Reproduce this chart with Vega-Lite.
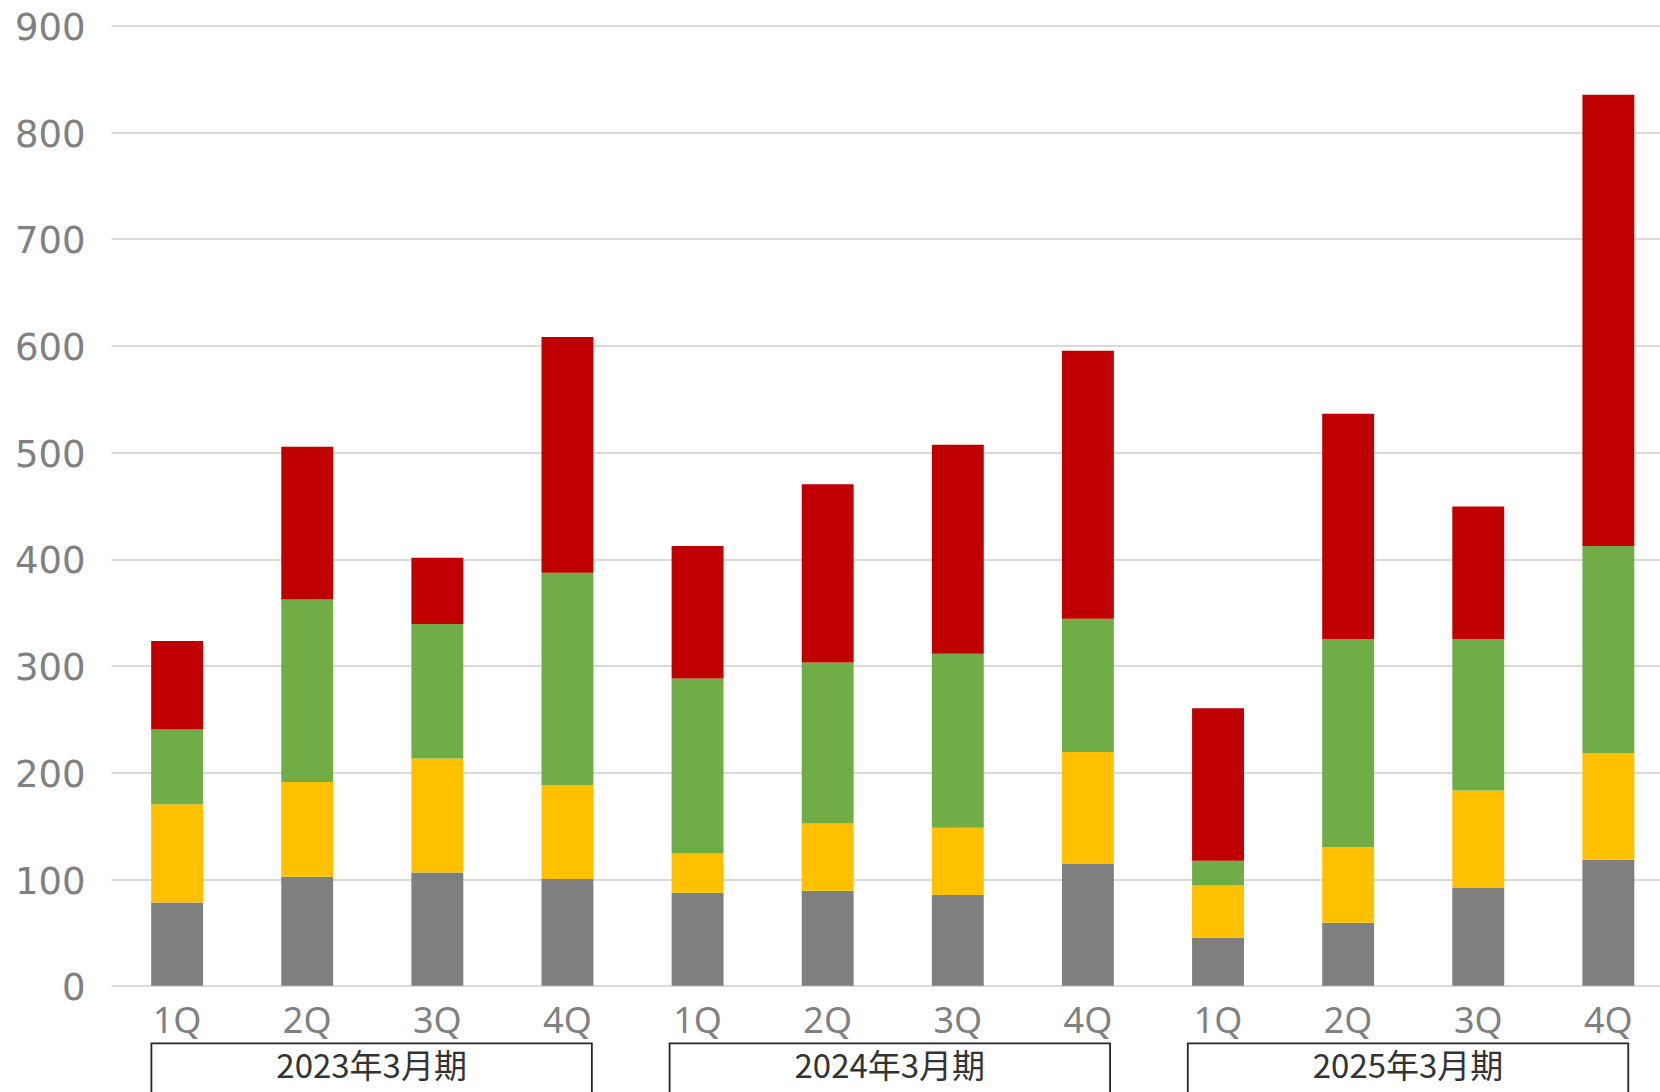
{
  "$schema": "https://vega.github.io/schema/vega-lite/v6.json",
  "width": 1549,
  "height": 960.3,
  "autosize": {"type": "none"},
  "padding": {"left": 111, "top": 25.4, "right": 0, "bottom": 106.3},
  "background": "white",
  "config": {"view": {"stroke": null}, "font": "Noto Sans"},
  "datasets": {
    "bars": [
      {"period": "2023年3月期", "key": "2023年3月期|1Q", "series": "系列1", "value": 78},
      {"period": "2023年3月期", "key": "2023年3月期|1Q", "series": "系列2", "value": 92},
      {"period": "2023年3月期", "key": "2023年3月期|1Q", "series": "系列3", "value": 70},
      {"period": "2023年3月期", "key": "2023年3月期|1Q", "series": "系列4", "value": 83},
      {"period": "2023年3月期", "key": "2023年3月期|2Q", "series": "系列1", "value": 102},
      {"period": "2023年3月期", "key": "2023年3月期|2Q", "series": "系列2", "value": 89},
      {"period": "2023年3月期", "key": "2023年3月期|2Q", "series": "系列3", "value": 171},
      {"period": "2023年3月期", "key": "2023年3月期|2Q", "series": "系列4", "value": 143},
      {"period": "2023年3月期", "key": "2023年3月期|3Q", "series": "系列1", "value": 106},
      {"period": "2023年3月期", "key": "2023年3月期|3Q", "series": "系列2", "value": 107},
      {"period": "2023年3月期", "key": "2023年3月期|3Q", "series": "系列3", "value": 126},
      {"period": "2023年3月期", "key": "2023年3月期|3Q", "series": "系列4", "value": 62},
      {"period": "2023年3月期", "key": "2023年3月期|4Q", "series": "系列1", "value": 100},
      {"period": "2023年3月期", "key": "2023年3月期|4Q", "series": "系列2", "value": 88},
      {"period": "2023年3月期", "key": "2023年3月期|4Q", "series": "系列3", "value": 199},
      {"period": "2023年3月期", "key": "2023年3月期|4Q", "series": "系列4", "value": 221},
      {"period": "2024年3月期", "key": "2024年3月期|1Q", "series": "系列1", "value": 87},
      {"period": "2024年3月期", "key": "2024年3月期|1Q", "series": "系列2", "value": 37},
      {"period": "2024年3月期", "key": "2024年3月期|1Q", "series": "系列3", "value": 164},
      {"period": "2024年3月期", "key": "2024年3月期|1Q", "series": "系列4", "value": 124},
      {"period": "2024年3月期", "key": "2024年3月期|2Q", "series": "系列1", "value": 89},
      {"period": "2024年3月期", "key": "2024年3月期|2Q", "series": "系列2", "value": 63},
      {"period": "2024年3月期", "key": "2024年3月期|2Q", "series": "系列3", "value": 151},
      {"period": "2024年3月期", "key": "2024年3月期|2Q", "series": "系列4", "value": 167},
      {"period": "2024年3月期", "key": "2024年3月期|3Q", "series": "系列1", "value": 85},
      {"period": "2024年3月期", "key": "2024年3月期|3Q", "series": "系列2", "value": 63},
      {"period": "2024年3月期", "key": "2024年3月期|3Q", "series": "系列3", "value": 163},
      {"period": "2024年3月期", "key": "2024年3月期|3Q", "series": "系列4", "value": 196},
      {"period": "2024年3月期", "key": "2024年3月期|4Q", "series": "系列1", "value": 114},
      {"period": "2024年3月期", "key": "2024年3月期|4Q", "series": "系列2", "value": 105},
      {"period": "2024年3月期", "key": "2024年3月期|4Q", "series": "系列3", "value": 125},
      {"period": "2024年3月期", "key": "2024年3月期|4Q", "series": "系列4", "value": 251},
      {"period": "2025年3月期", "key": "2025年3月期|1Q", "series": "系列1", "value": 45},
      {"period": "2025年3月期", "key": "2025年3月期|1Q", "series": "系列2", "value": 49},
      {"period": "2025年3月期", "key": "2025年3月期|1Q", "series": "系列3", "value": 23},
      {"period": "2025年3月期", "key": "2025年3月期|1Q", "series": "系列4", "value": 143},
      {"period": "2025年3月期", "key": "2025年3月期|2Q", "series": "系列1", "value": 59},
      {"period": "2025年3月期", "key": "2025年3月期|2Q", "series": "系列2", "value": 71},
      {"period": "2025年3月期", "key": "2025年3月期|2Q", "series": "系列3", "value": 195},
      {"period": "2025年3月期", "key": "2025年3月期|2Q", "series": "系列4", "value": 211},
      {"period": "2025年3月期", "key": "2025年3月期|3Q", "series": "系列1", "value": 92},
      {"period": "2025年3月期", "key": "2025年3月期|3Q", "series": "系列2", "value": 91},
      {"period": "2025年3月期", "key": "2025年3月期|3Q", "series": "系列3", "value": 142},
      {"period": "2025年3月期", "key": "2025年3月期|3Q", "series": "系列4", "value": 124},
      {"period": "2025年3月期", "key": "2025年3月期|4Q", "series": "系列1", "value": 118},
      {"period": "2025年3月期", "key": "2025年3月期|4Q", "series": "系列2", "value": 100},
      {"period": "2025年3月期", "key": "2025年3月期|4Q", "series": "系列3", "value": 194},
      {"period": "2025年3月期", "key": "2025年3月期|4Q", "series": "系列4", "value": 423}
    ],
    "periods": [
      {"period": "2023年3月期"},
      {"period": "2024年3月期"},
      {"period": "2025年3月期"}
    ]
  },
  "resolve": {"scale": {"x": "independent"}, "axis": {"x": "independent"}},
  "layer": [
    {
      "data": {"name": "bars"},
      "mark": {"type": "bar"},
      "encoding": {
        "x": {
          "field": "key",
          "type": "nominal",
          "sort": null,
          "scale": {"paddingInner": 0.601, "paddingOuter": 0.253, "align": 0.61},
          "axis": {
            "title": null,
            "domain": false,
            "ticks": false,
            "grid": false,
            "labelExpr": "split(datum.label, '|')[1]",
            "labelFont": "Noto Sans",
            "labelFontSize": 36,
            "labelColor": "#808080",
            "labelPadding": 19,
            "labelAngle": 0
          }
        },
        "y": {
          "field": "value",
          "type": "quantitative",
          "stack": "zero",
          "scale": {"domain": [0, 900], "nice": false},
          "axis": {
            "title": null,
            "values": [0, 100, 200, 300, 400, 500, 600, 700, 800, 900],
            "domain": false,
            "ticks": false,
            "gridColor": "#d9d9d9",
            "gridWidth": 2,
            "labelFont": "DejaVu Sans",
            "labelFontSize": 37,
            "labelColor": "#808080",
            "labelPadding": 26,
            "labelOffset": 3
          }
        },
        "color": {
          "field": "series",
          "type": "nominal",
          "scale": {
            "domain": ["系列1", "系列2", "系列3", "系列4"],
            "range": ["#7f7f7f", "#ffc000", "#70ad47", "#c00000"]
          },
          "legend": null
        },
        "order": {"field": "series", "sort": "ascending"}
      }
    },
    {
      "data": {"name": "periods"},
      "mark": {"type": "bar", "fill": null, "fillOpacity": 0, "stroke": "#262626", "strokeWidth": 1.8},
      "encoding": {
        "x": {
          "field": "period",
          "type": "nominal",
          "sort": null,
          "scale": {"type": "band", "paddingInner": 0.15, "paddingOuter": 0.0696, "align": 0.56},
          "axis": null
        },
        "y": {"datum": -54},
        "y2": {"datum": -120}
      }
    },
    {
      "data": {"name": "periods"},
      "mark": {"type": "text", "font": "Noto Sans CJK JP", "fontSize": 33, "color": "#333333", "baseline": "middle"},
      "encoding": {
        "x": {
          "field": "period",
          "type": "nominal",
          "sort": null,
          "scale": {"type": "band", "paddingInner": 0.15, "paddingOuter": 0.0696, "align": 0.56},
          "axis": null
        },
        "y": {"datum": -77},
        "text": {"field": "period"}
      }
    }
  ]
}
